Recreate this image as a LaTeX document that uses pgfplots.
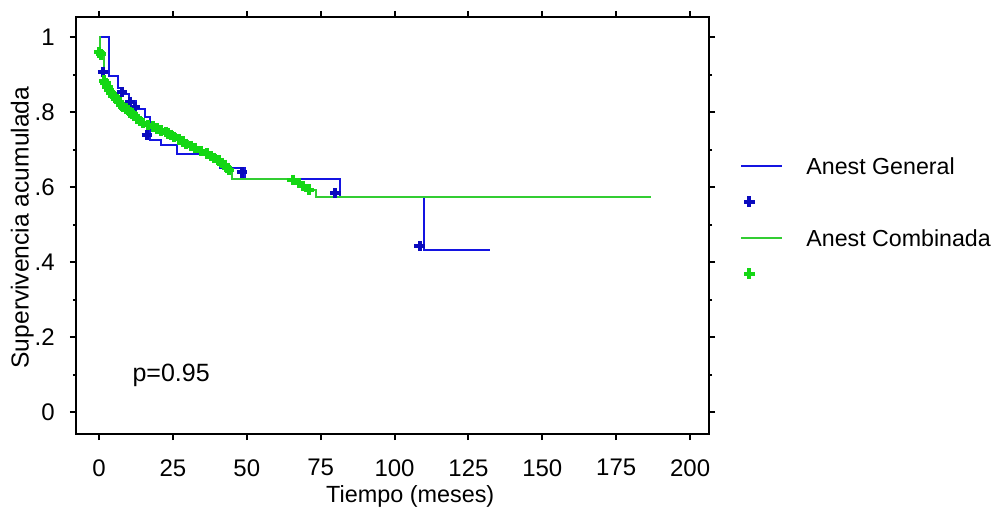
\documentclass[border=0pt]{standalone}
\usepackage{pgfplots}
\pgfplotsset{compat=1.18}
\usepackage{fontspec}
\setmainfont{Liberation Sans}
\definecolor{kmblue}{RGB}{20,20,225}
\definecolor{kmgreen}{RGB}{50,205,50}
\definecolor{mkblue}{RGB}{10,10,190}
\definecolor{mkgreen}{RGB}{20,215,20}
\pgfplotsset{
  lineleg/.style={legend image code/.code={\draw[##1] (0bp,4.2bp) -- (20.5bp,4.2bp);}},
  markleg/.style={legend image code/.code={\draw[##1] plot coordinates {(4bp,4.2bp)};}},
}
\begin{document}
\fontsize{12bp}{14bp}\selectfont
\begin{tikzpicture}
\useasboundingbox (-38bp,-39.5bp) rectangle (460bp,217bp);
\begin{axis}[
  at={(0,0)}, anchor=south west,
  scale only axis, width=316.5bp, height=208.5bp,
  xmin=-7.8, xmax=206.4, ymin=-0.0587, ymax=1.0547,
  axis line style={line width=1.2bp},
  xtick={0,25,...,200},
  ytick={0,0.2,0.4,0.6,0.8,1},
  yticklabels={0,.2,.4,.6,.8,1},
  minor ytick={0.1,0.3,0.5,0.7,0.9},
  tick align=outside,
  major tick length=3bp, minor tick length=1.5bp,
  every tick/.style={black, line width=1bp},
  /pgf/number format/assume math mode=true,
  ticklabel style={font=\fontsize{12bp}{14bp}\selectfont},
  xticklabel style={yshift=-5.5bp},
  yticklabel style={xshift=-3.5bp},
  xlabel={Tiempo (meses)},
  ylabel={Supervivencia acumulada},
  x label style={at={(axis description cs:0.528,-0.149)}, anchor=center, font=\fontsize{11.7bp}{14bp}\selectfont},
  y label style={at={(axis description cs:-0.085,0.495)}, anchor=center, font=\fontsize{12.3bp}{14bp}\selectfont},
  legend style={at={(axis description cs:1.049,0.494)}, anchor=west, draw=none, fill=none, inner sep=0pt,
    font=\fontsize{11.6bp}{14bp}\selectfont, column sep=0pt,
    nodes={inner sep=0pt, text height=9bp, text depth=9bp}},
  legend cell align=left,
  clip=false,
]
% Anest General: KM line
\addplot[kmblue, line width=1bp, lineleg] coordinates {
(0,1) (3.4,1) (3.4,0.897) (6.3,0.897) (6.3,0.865) (8,0.865) (8,0.848) (10,0.848) (10,0.83)
(12.5,0.83) (12.5,0.81) (15.5,0.81) (15.5,0.788) (17.3,0.788) (17.3,0.726) (21,0.726) (21,0.712)
(26.5,0.712) (26.5,0.689) (39.2,0.689) (39.2,0.678) (41,0.678) (41,0.652) (49.4,0.652) (49.4,0.623)
(81.6,0.623) (81.6,0.573) (110,0.573) (110,0.432) (132.3,0.432)
};
\addlegendentry{\hspace*{11.5bp}Anest General}
% Anest General: censored
\addplot[only marks, mark=+, mkblue, mark size=2.6bp, mark options={line width=2bp}, markleg] coordinates {
(1.4,0.908) (7.8,0.854) (10.5,0.828) (12.2,0.814) (16.2,0.739) (48.4,0.64) (80,0.584) (108.5,0.443)
};
\addlegendentry{\phantom{A}}
% Anest Combinada: KM line
\addplot[kmgreen, line width=1bp, lineleg] coordinates {
(0,1) (0.4,1) (0.4,0.96) (1.6,0.96) (1.6,0.885) (2.5,0.885) (2.5,0.872) (3.5,0.872) (3.5,0.857)
(4.5,0.857) (4.5,0.846) (5.5,0.846) (5.5,0.838) (6.5,0.838) (6.5,0.828) (7.5,0.828) (7.5,0.82)
(8.5,0.82) (8.5,0.813) (9.5,0.813) (9.5,0.806) (11,0.806) (11,0.799) (12,0.799) (12,0.789)
(13,0.789) (13,0.78) (14.5,0.78) (14.5,0.772) (16,0.772) (16,0.768) (18,0.768) (18,0.762)
(20,0.762) (20,0.756) (22,0.756) (22,0.749) (24,0.749) (24,0.742) (26,0.742) (26,0.733)
(28,0.733) (28,0.723) (30,0.723) (30,0.712) (32,0.712) (32,0.705) (34,0.705) (34,0.697)
(36,0.697) (36,0.69) (38,0.69) (38,0.683) (40,0.683) (40,0.673) (42,0.673) (42,0.661)
(43.5,0.661) (43.5,0.648) (45,0.648) (45,0.623) (66,0.623) (66,0.612) (68.5,0.612) (68.5,0.603)
(70.5,0.603) (70.5,0.594) (73.5,0.594) (73.5,0.573) (186.7,0.573)
};
\addlegendentry{\hspace*{11.5bp}Anest Combinada}
% Anest Combinada: censored
\addplot[only marks, mark=+, mkgreen, mark size=2.6bp, mark options={line width=2bp}, markleg] coordinates {
(0,0.96) (0.6,0.955) (1.7,0.885) (2.2,0.878) (2.8,0.868) (3.3,0.86) (4,0.853) (4.8,0.845)
(5.4,0.84) (6,0.835) (6.8,0.828) (7.5,0.82) (8.2,0.815) (9,0.81) (9.8,0.806) (10.5,0.8)
(11.3,0.797) (12.2,0.79) (13,0.782) (13.8,0.777) (14.8,0.772) (16.5,0.767) (18.2,0.762)
(19.5,0.757) (21,0.752) (22.5,0.748) (23.5,0.744) (24.5,0.74) (25.5,0.735) (27,0.728)
(28.5,0.722) (29.5,0.716) (31,0.71) (32.5,0.705) (34.5,0.697) (36.5,0.69) (38,0.683)
(39,0.678) (40.5,0.672) (41.5,0.665) (42.5,0.66) (43.2,0.652) (44,0.646)
(65.5,0.62) (67.5,0.612) (69,0.603) (71,0.594)
};
\addlegendentry{\phantom{A}}
\node[anchor=west, inner sep=0pt, font=\fontsize{12.5bp}{15bp}\selectfont] at (axis cs:11.2,0.099) {p=0.95};
\end{axis}
\end{tikzpicture}
\end{document}
